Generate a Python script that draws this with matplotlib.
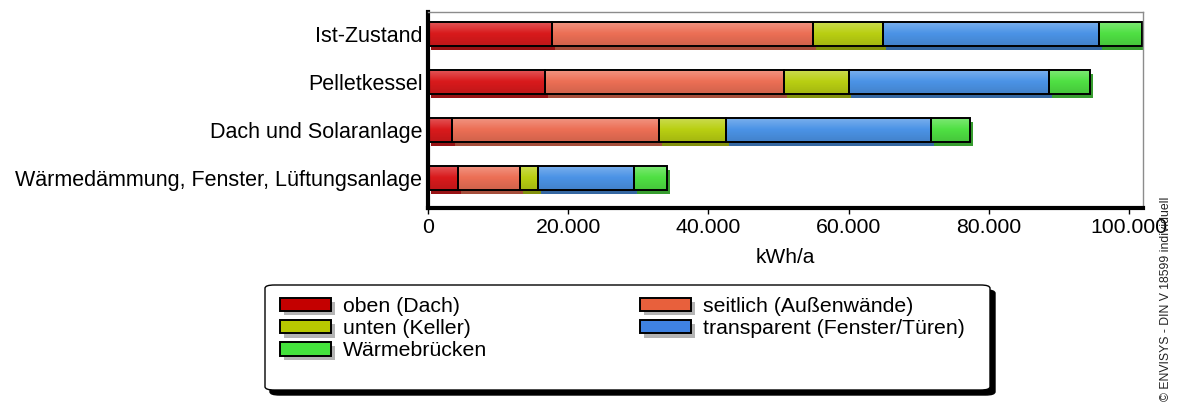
import numpy as np
import matplotlib.pyplot as plt
import matplotlib.patheffects as pe
from matplotlib.patches import Patch, FancyBboxPatch

plt.rcParams["font.family"] = ["Liberation Sans", "DejaVu Sans"]

# ---- data (kWh/a)
scenarios = [
    "Ist-Zustand",
    "Pelletkessel",
    "Dach und Solaranlage",
    "Wärmedämmung, Fenster, Lüftungsanlage",
]
oben = [17700, 16700, 3400, 4300]
seitlich = [37200, 34100, 29600, 8800]
unten = [10000, 9200, 9500, 2600]
transparent = [30800, 28600, 29300, 13700]
waermebruecken = [6200, 5800, 5500, 4700]

series_labels = [
    "oben (Dach)",
    "seitlich (Außenwände)",
    "unten (Keller)",
    "transparent (Fenster/Türen)",
    "Wärmebrücken",
]
x_ticks = [0, 20000, 40000, 60000, 80000, 100000]
x_tick_labels = ["0", "20.000", "40.000", "60.000", "80.000", "100.000"]

colors = ["#d91a1c", "#ec6f55", "#b9cf12", "#4b93e6", "#4fe043"]
legend_colors = ["#c40000", "#e8603c", "#b8c800", "#3f82e2", "#44e23c"]

W, H = 1177, 403
fig = plt.figure(figsize=(W / 100, H / 100), dpi=100)
ax = fig.add_axes([428 / W, 1 - 208 / H, (1143 - 428) / W, (208 - 12) / H])

shadow = [pe.SimplePatchShadow(offset=(2, -3), rho=0.7, alpha=1.0), pe.Normal()]

# gloss overlay: light at the top, a little darker at the bottom
t = np.linspace(0, 1, 32)
gloss = np.zeros((32, 1, 4))
gloss[:, 0, :3] = np.where(t < 0.5, 1.0, 0.0)[:, None]
gloss[:, 0, 3] = np.where(t < 0.5, 0.28 * (1 - 2 * t), 0.12 * (2 * t - 1))

y = np.arange(len(scenarios))
left = np.zeros(len(scenarios))
for vals, col in zip([oben, seitlich, unten, transparent, waermebruecken], colors):
    bars = ax.barh(y, vals, left=left, height=0.5, color=col, linewidth=0)
    for b in bars:
        b.set_path_effects(shadow)
        x0, y0 = b.get_x(), b.get_y()
        im = ax.imshow(gloss, extent=(x0, x0 + b.get_width(), y0 + b.get_height(), y0),
                       aspect="auto", interpolation="bilinear", zorder=2.1)
        im.set_clip_path(b)
    ax.barh(y, vals, left=left, height=0.5, fill=False, edgecolor="black",
            linewidth=1.4, zorder=2.2)
    left += np.array(vals)

ax.set_ylim(3.625, -0.458)
ax.set_xlim(0, 102000)
ax.set_yticks(y)
ax.set_yticklabels(scenarios, fontsize=15.5)
ax.tick_params(axis="y", length=0, pad=4)
ax.set_xticks(x_ticks)
ax.set_xticklabels(x_tick_labels, fontsize=15.3)
ax.tick_params(axis="x", length=4, width=1, direction="out", pad=3)
ax.set_xlabel("kWh/a", fontsize=15, labelpad=8)

for s in ["left", "bottom"]:
    ax.spines[s].set_linewidth(3)
    ax.spines[s].set_color("black")
for s in ["top", "right"]:
    ax.spines[s].set_linewidth(1)
    ax.spines[s].set_color("#8c8c8c")

# ---- legend box (drawn by hand so it matches the reference size)
box_shadow = FancyBboxPatch((270 / W, 1 - 395 / H), (990 - 265) / W, (390 - 285) / H,
                            boxstyle="round,pad=0,rounding_size=0.008",
                            transform=fig.transFigure, facecolor="black",
                            edgecolor="black", zorder=1)
box = FancyBboxPatch((265 / W, 1 - 390 / H), (990 - 265) / W, (390 - 285) / H,
                     boxstyle="round,pad=0,rounding_size=0.008",
                     transform=fig.transFigure, facecolor="white",
                     edgecolor="black", linewidth=1, zorder=2)
fig.patches.extend([box_shadow, box])

handles = [Patch(facecolor=c, edgecolor="black", linewidth=1.4,
                 path_effects=[pe.SimplePatchShadow(offset=(3, -3), shadow_rgbFace="#b4b4b4", alpha=1.0),
                               pe.Normal()])
           for c in legend_colors]
order = [0, 2, 4, 1, 3]
leg = fig.legend([handles[i] for i in order], [series_labels[i] for i in order],
                 loc="upper left", bbox_to_anchor=(263 / W, 1 - 280 / H),
                 ncol=2, fontsize=15.3, handlelength=2.4, handleheight=0.6,
                 columnspacing=7.2, labelspacing=0.15, handletextpad=0.55,
                 borderpad=0.3, frameon=False)
leg.set_zorder(3)

fig.text(1166 / W, 0.005, "© ENVISYS - DIN V 18599 individuell", rotation=90,
         fontsize=8.8, ha="center", va="bottom", color="#222222")

fig.savefig("out.png", dpi=100)
